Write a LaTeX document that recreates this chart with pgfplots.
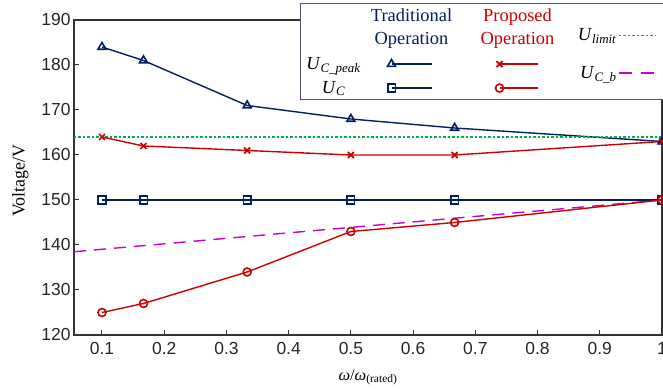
\documentclass[border=0pt]{standalone}
\usepackage{fontspec}
\setmainfont{Liberation Serif}
\newfontfamily\arial{Liberation Sans}
\usepackage{pgfplots}
\pgfplotsset{compat=1.18}
\definecolor{navy}{RGB}{0,32,96}
\definecolor{myred}{RGB}{204,0,0}
\definecolor{mygreen}{RGB}{0,176,80}
\definecolor{mymag}{RGB}{204,0,204}
\definecolor{legbox}{RGB}{96,74,123}
\newcommand{\lf}{\fontsize{18.5}{23}\selectfont}
\begin{document}
\begin{tikzpicture}
\begin{axis}[
  scale only axis, width=588bp, height=315bp,
  xmin=0.055, xmax=1, ymin=120, ymax=190,
  xtick={0.1,0.2,0.3,0.4,0.5,0.6,0.7,0.8,0.9,1},
  xticklabels={0.1,0.2,0.3,0.4,0.5,0.6,0.7,0.8,0.9,1},
  ytick={120,130,140,150,160,170,180,190},
  yticklabels={120,130,140,150,160,170,180,190},
  tick pos=left, tick align=inside, major tick length=5bp,
  axis line style={line width=1.2bp, black!80},
  every tick/.style={line width=1bp, black!80},
  ticklabel style={font=\arial\fontsize{17.5}{17.5}\selectfont, text=black!85},
  /pgf/number format/assume math mode=true,
  xticklabel style={yshift=-4bp},
  xlabel={\fontsize{16.5}{16.5}\selectfont\textit{ω}/\textit{ω}\textsubscript{(rated)}},
  ylabel={\fontsize{18}{18}\selectfont Voltage/V},
  xlabel style={at={(axis description cs:0.5,0)}, anchor=north, yshift=-31bp},
  ylabel style={at={(axis description cs:0,0.49)}, anchor=south, yshift=42bp},
  legend columns=4,
  legend style={at={(axis description cs:0.3844,1.054)}, anchor=north west,
    draw=legbox, line width=1bp, fill=white, inner sep=0pt,
    column sep=0pt, row sep=0pt, nodes={inner sep=0pt, outer sep=0pt, draw=none}, font=\lf},
]
% data
\addplot[forget plot, navy, line width=1.4bp, mark=triangle, mark size=4.6bp, mark options={solid, fill=white, line width=1.6bp}]
  coordinates {(0.1,184) (0.1667,181) (0.3333,171) (0.5,168) (0.6667,166) (1,163)};
\addplot[forget plot, navy, line width=1.4bp, mark=square, mark size=3.8bp, mark options={solid, fill=white, line width=1.6bp}]
  coordinates {(0.1,150) (0.1667,150) (0.3333,150) (0.5,150) (0.6667,150) (1,150)};
\addplot[forget plot, mygreen, line width=1.4bp, dash pattern=on 2.5bp off 2bp]
  coordinates {(0.055,164) (1,164)};
\addplot[forget plot, mymag, line width=1.4bp, dash pattern=on 12bp off 8bp]
  coordinates {(0.055,138.5) (1,150)};
\addplot[forget plot, myred, line width=1.4bp, mark=x, mark size=4.2bp, mark options={solid, line width=1.7bp}]
  coordinates {(0.1,164) (0.1667,162) (0.3333,161) (0.5,160) (0.6667,160) (1,163)};
\addplot[forget plot, myred, line width=1.4bp, mark=o, mark size=4bp, mark options={solid, fill=white, line width=1.6bp}]
  coordinates {(0.1,125) (0.1667,127) (0.3333,134) (0.5,143) (0.6667,145) (1,150)};
% legend, row 1
\addlegendimage{legend image code/.code={\path[draw=none] (-33bp,-17bp) rectangle (32bp,25bp);}}
\addlegendentry{}
\addlegendimage{legend image code/.code={\path[draw=none] (-25bp,-17bp) rectangle (70bp,25bp);
  \node[draw=none, text=navy, align=center, font=\lf] at (20bp,1bp) {Traditional\\Operation};}}
\addlegendentry{}
\addlegendimage{legend image code/.code={\path[draw=none] (-37bp,-17bp) rectangle (68bp,25bp);
  \node[draw=none, text=myred, align=center, font=\lf] at (18bp,1bp) {Proposed\\Operation};}}
\addlegendentry{}
\addlegendimage{legend image code/.code={\path[draw=none] (-49bp,-17bp) rectangle (46bp,25bp);
  \node[draw=none, anchor=east, font=\lf] at (-1bp,-7bp) {\textit{U}\textsubscript{\textit{limit}}};
  \draw[mygreen, line width=1.4bp, dash pattern=on 2.5bp off 2bp] (1bp,-7bp)--(38bp,-7bp);}}
\addlegendentry{}
% row 2
\addlegendimage{legend image code/.code={\path[draw=none] (-33bp,-12bp) rectangle (32bp,18bp);
  \node[draw=none, font=\lf] at (0,0) {\textit{U}\textsubscript{\textit{C\_peak}}};}}
\addlegendentry{}
\addlegendimage{legend image code/.code={\path[draw=none] (-25bp,-12bp) rectangle (70bp,18bp);
  \draw[navy, line width=1.4bp] (0,0)--(40bp,0);
  \draw[navy, line width=1.6bp, mark=triangle, mark size=4.6bp, mark options={solid, fill=white}] plot coordinates {(0,0)};}}
\addlegendentry{}
\addlegendimage{legend image code/.code={\path[draw=none] (-37bp,-12bp) rectangle (68bp,18bp);
  \draw[myred, line width=1.4bp] (0,0)--(38bp,0);
  \draw[myred, line width=1.7bp, mark=x, mark size=4.2bp, mark options={solid}] plot coordinates {(0,0)};}}
\addlegendentry{}
\addlegendimage{legend image code/.code={\path[draw=none] (-49bp,-12bp) rectangle (46bp,18bp);
  \node[draw=none, overlay, anchor=east, font=\lf] at (-1bp,-9bp) {\textit{U}\textsubscript{\textit{C\_b}}};
  \draw[overlay, mymag, line width=1.4bp, dash pattern=on 13bp off 9bp] (1bp,-9bp)--(38bp,-9bp);}}
\addlegendentry{}
% row 3
\addlegendimage{legend image code/.code={\path[draw=none] (-33bp,-11bp) rectangle (32bp,12bp);
  \node[draw=none, font=\lf] at (0,0) {\textit{U}\textsubscript{\textit{C}}};}}
\addlegendentry{}
\addlegendimage{legend image code/.code={\path[draw=none] (-25bp,-11bp) rectangle (70bp,12bp);
  \draw[navy, line width=1.4bp] (0,0)--(40bp,0);
  \draw[navy, line width=1.6bp, mark=square, mark size=3.8bp, mark options={solid, fill=white}] plot coordinates {(0,0)};}}
\addlegendentry{}
\addlegendimage{legend image code/.code={\path[draw=none] (-37bp,-11bp) rectangle (68bp,12bp);
  \draw[myred, line width=1.4bp] (0,0)--(38bp,0);
  \draw[myred, line width=1.6bp, mark=o, mark size=4bp, mark options={solid, fill=white}] plot coordinates {(0,0)};}}
\addlegendentry{}
\addlegendimage{legend image code/.code={\path[draw=none] (-49bp,-11bp) rectangle (46bp,12bp);}}
\addlegendentry{}
\end{axis}
\pgfresetboundingbox
\path ([shift={(-74bp,-54bp)}]current axis.south west) rectangle ([shift={(1bp,20bp)}]current axis.north east);
\end{tikzpicture}
\end{document}
